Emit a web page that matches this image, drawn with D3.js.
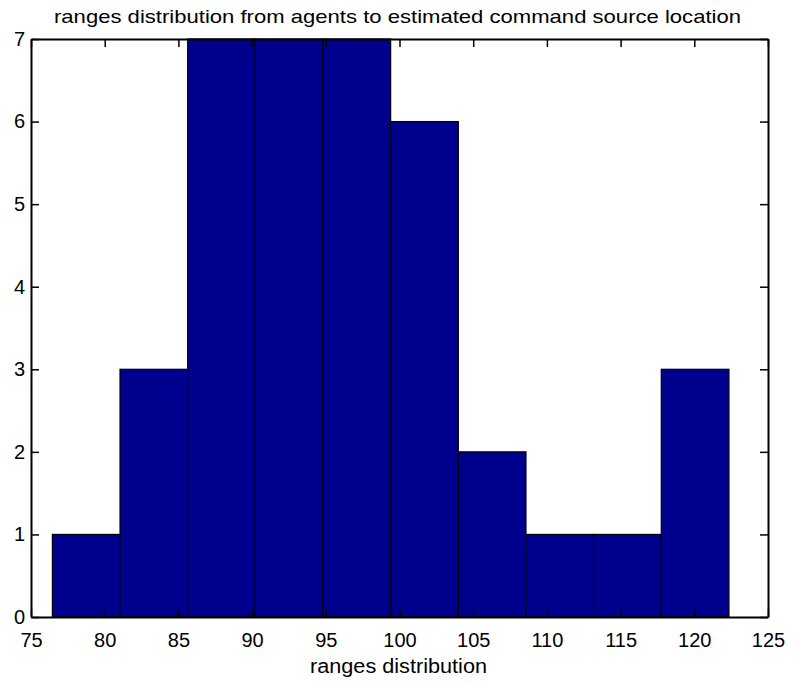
<!DOCTYPE html>
<html><head><meta charset="utf-8">
<script src="https://cdn.jsdelivr.net/npm/d3@7"></script>
<style>
body{margin:0;background:#fff;}
text{font-family:"Liberation Sans",Arial,sans-serif;fill:#000;}
</style></head>
<body><svg id="c" width="793" height="686"></svg>
<script>
const binEdges = [76.45, 81.04, 85.63, 90.22, 94.81, 99.40, 103.99, 108.58, 113.17, 117.76, 122.35];
const counts = [1, 3, 7, 7, 7, 6, 2, 1, 1, 3];
const xTicks = [75, 80, 85, 90, 95, 100, 105, 110, 115, 120, 125];
const yTicks = [0, 1, 2, 3, 4, 5, 6, 7];
const chartTitle = "ranges distribution from agents to estimated command source location";
const xLabel = "ranges distribution";

(function () {
const bins = counts.map((c, i) => ({x0: binEdges[i], x1: binEdges[i + 1], n: c}));

const W = 793, H = 686;
const m = {left: 31, right: 793 - 768, top: 39, bottom: 686 - 617};
const svg = d3.select("#c");
const x = d3.scaleLinear().domain([75, 125]).range([m.left, W - m.right]);
const y = d3.scaleLinear().domain([0, 7]).range([H - m.bottom, m.top]);
const tk = 8;

svg.append("rect").attr("x", 0).attr("y", 0).attr("width", W).attr("height", H).attr("fill", "#fff");

svg.append("g").selectAll("rect").data(bins).join("rect")
  .attr("x", d => x(d.x0)).attr("y", d => y(d.n))
  .attr("width", d => x(d.x1) - x(d.x0)).attr("height", d => y(0) - y(d.n))
  .attr("fill", "#00008f").attr("stroke", "#000").attr("stroke-width", 1.2);

const fs = 20;
const gB = svg.append("g").attr("transform", `translate(0,${y(0)})`)
  .call(d3.axisBottom(x).tickValues(xTicks).tickSizeInner(-tk).tickSizeOuter(0).tickPadding(16).tickFormat(d3.format("d")));
const gT = svg.append("g").attr("transform", `translate(0,${y(7)})`)
  .call(d3.axisTop(x).tickValues(xTicks).tickSizeInner(-tk).tickSizeOuter(0).tickFormat(""));
const gL = svg.append("g").attr("transform", `translate(${x(75)},0)`)
  .call(d3.axisLeft(y).tickValues(yTicks).tickSizeInner(-tk).tickSizeOuter(0).tickPadding(6).tickFormat(d3.format("d")));
const gR = svg.append("g").attr("transform", `translate(${x(125)},0)`)
  .call(d3.axisRight(y).tickValues(yTicks).tickSizeInner(-tk).tickSizeOuter(0).tickFormat(""));

[gB, gT, gL, gR].forEach(g => {
  g.select(".domain").attr("stroke", "#000").attr("stroke-width", 2);
  g.selectAll(".tick line").attr("stroke", "#000").attr("stroke-width", 1.5);
  g.selectAll("text").attr("font-size", fs).attr("font-family", "Liberation Sans, Arial, sans-serif").attr("fill", "#000");
});
gL.selectAll("text").attr("dx", "0");

svg.append("text").attr("x", (x(75) + x(125)) / 2 - 2).attr("y", 23)
  .attr("text-anchor", "middle").attr("font-size", 19)
  .attr("textLength", 687).attr("lengthAdjust", "spacingAndGlyphs").text(chartTitle);
svg.append("text").attr("x", (x(75) + x(125)) / 2 - 1).attr("y", 673)
  .attr("text-anchor", "middle").attr("font-size", 20)
  .attr("textLength", 177).attr("lengthAdjust", "spacingAndGlyphs").text(xLabel);
})();
</script></body></html>
